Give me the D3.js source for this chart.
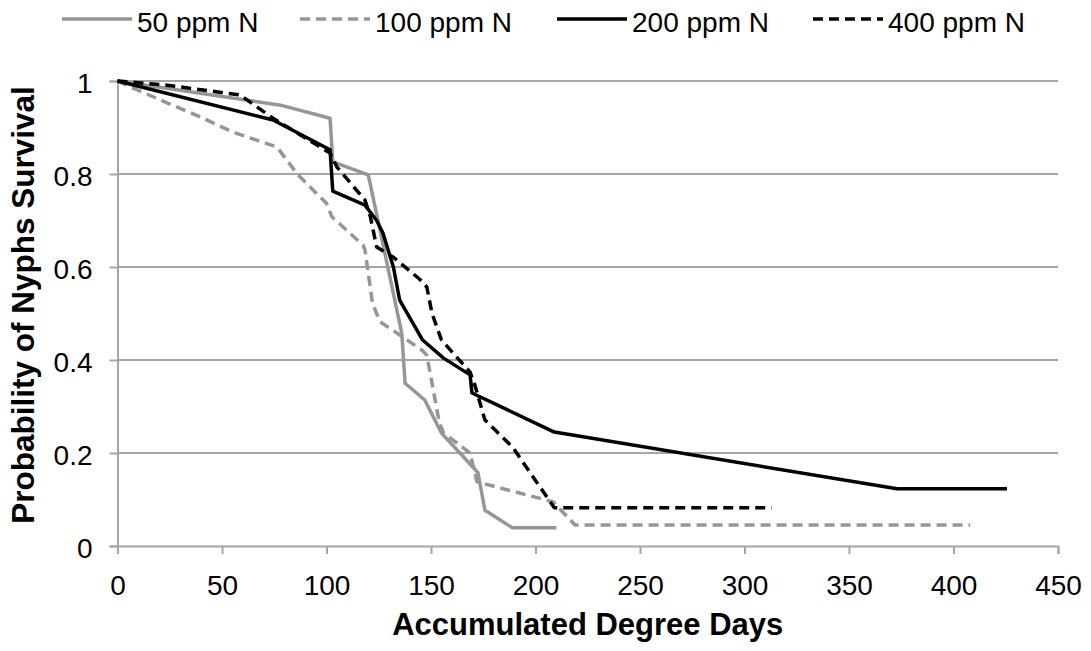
<!DOCTYPE html>
<html>
<head>
<meta charset="utf-8">
<script src="https://cdn.jsdelivr.net/npm/d3@7"></script>
<style>
  body { margin: 0; background: #fff; }
  text { font-family: "Liberation Sans", Arial, sans-serif; fill: #000; }
</style>
</head>
<body>
<div id="chart"></div>
<script>
// series labels
var seriesNames = ['50 ppm N', '100 ppm N', '200 ppm N', '400 ppm N'];

// [degree days, survival probability]
var ppm50 = [[0, 1], [78, 0.948], [101.7, 0.92], [103, 0.826], [120, 0.798], [136, 0.458],
  [137.6, 0.35], [147, 0.314], [155, 0.243], [170, 0.17], [172.5, 0.157], [175.8, 0.077],
  [189, 0.039], [210, 0.039]];
var ppm100 = [[0, 1], [7.4, 0.985], [23.7, 0.953], [39.5, 0.923], [55.3, 0.89], [76.3, 0.858],
  [86, 0.8], [100, 0.737], [102.6, 0.708], [117.5, 0.647], [118.4, 0.637], [122, 0.522],
  [125.6, 0.482], [133.7, 0.458], [146, 0.42], [148, 0.41], [154, 0.265], [156, 0.243],
  [168.7, 0.2], [172, 0.138], [208.4, 0.095], [219, 0.045], [408, 0.045]];
var ppm200 = [[0, 1], [74.4, 0.916], [101.7, 0.852], [103, 0.763], [118.4, 0.733], [124, 0.7],
  [127, 0.673], [132, 0.6], [135, 0.529], [146, 0.443], [156, 0.404], [168.7, 0.368],
  [169.6, 0.329], [209, 0.245], [373, 0.123], [425.6, 0.123]];
var ppm400 = [[0, 1], [23.7, 0.991], [58.6, 0.97], [74.4, 0.92], [101.7, 0.845], [105, 0.815],
  [118.4, 0.744], [121, 0.708], [124, 0.643], [132, 0.621], [145, 0.572], [148, 0.557],
  [150.5, 0.5], [155, 0.443], [168.7, 0.374], [171, 0.346], [175.8, 0.271], [189, 0.213],
  [209, 0.082], [313, 0.082]];

var xTicks = [0, 50, 100, 150, 200, 250, 300, 350, 400, 450];
var yTicks = [0, 0.2, 0.4, 0.6, 0.8, 1];

var width = 1091, height = 651;
var margin = { left: 117.5, right: 33, top: 81, bottom: 105 };

var svg = d3.select('#chart').append('svg')
  .attr('width', width)
  .attr('height', height);

var x = d3.scaleLinear().domain([0, 450]).range([margin.left, width - margin.right]);
var y = d3.scaleLinear().domain([0, 1]).range([height - margin.bottom, margin.top]);

var gridColor = '#a6a6a6';

// horizontal gridlines
svg.append('g')
  .selectAll('line')
  .data(yTicks.filter(function(d) { return d > 0; }))
  .enter().append('line')
  .attr('x1', x(0)).attr('x2', x(450))
  .attr('y1', function(d) { return y(d); })
  .attr('y2', function(d) { return y(d); })
  .attr('stroke', gridColor)
  .attr('stroke-width', 2);

// axes
var xAxis = svg.append('g')
  .attr('transform', 'translate(0,' + y(0) + ')')
  .call(d3.axisBottom(x).tickValues(xTicks).tickSize(8).tickPadding(21).tickFormat(d3.format('d')));

var yAxis = svg.append('g')
  .attr('transform', 'translate(' + x(0) + ',0)')
  .call(d3.axisLeft(y).tickValues(yTicks).tickSize(8).tickPadding(17).tickFormat(function(d) { return d3.format('')(d); }));

[xAxis, yAxis].forEach(function(ax) {
  ax.select('.domain').attr('stroke', gridColor).attr('stroke-width', 2);
  ax.selectAll('.tick line').attr('stroke', gridColor).attr('stroke-width', 2);
  ax.selectAll('.tick text')
    .style('font-family', '"Liberation Sans", Arial, sans-serif')
    .style('font-size', '28px')
    .attr('fill', '#000');
});
yAxis.selectAll('.tick text').attr('dy', '0.4em');

// series
var series = [
  { name: seriesNames[0], data: ppm50, color: '#969696', dash: null },
  { name: seriesNames[1], data: ppm100, color: '#969696', dash: '10,6' },
  { name: seriesNames[2], data: ppm200, color: '#000000', dash: null },
  { name: seriesNames[3], data: ppm400, color: '#000000', dash: '10,6' }
];

var line = d3.line()
  .x(function(d) { return x(d[0]); })
  .y(function(d) { return y(d[1]); });

svg.append('g').selectAll('path')
  .data(series)
  .enter().append('path')
  .attr('d', function(d) { return line(d.data); })
  .attr('fill', 'none')
  .attr('stroke', function(d) { return d.color; })
  .attr('stroke-width', 3.5)
  .attr('stroke-linejoin', 'round')
  .attr('stroke-dasharray', function(d) { return d.dash; });

// legend
var legendX = [62, 300, 557, 813];
var legend = svg.append('g').selectAll('g')
  .data(series)
  .enter().append('g')
  .attr('transform', function(d, i) { return 'translate(' + legendX[i] + ',19)'; });

legend.append('line')
  .attr('x1', 0).attr('x2', 70)
  .attr('stroke', function(d) { return d.color; })
  .attr('stroke-width', 3.5)
  .attr('stroke-dasharray', function(d) { return d.dash; });

legend.append('text')
  .attr('x', 75)
  .attr('y', 13)
  .style('font-size', '28px')
  .text(function(d) { return d.name; });

// axis titles
svg.append('text')
  .attr('x', (x(0) + x(450)) / 2)
  .attr('y', 635)
  .attr('text-anchor', 'middle')
  .style('font-size', '31px')
  .style('font-weight', 'bold')
  .text('Accumulated Degree Days');

svg.append('text')
  .attr('transform', 'translate(34,305) rotate(-90)')
  .attr('text-anchor', 'middle')
  .style('font-size', '31.5px')
  .style('font-weight', 'bold')
  .text('Probability of Nyphs Survival');
</script>
</body>
</html>
